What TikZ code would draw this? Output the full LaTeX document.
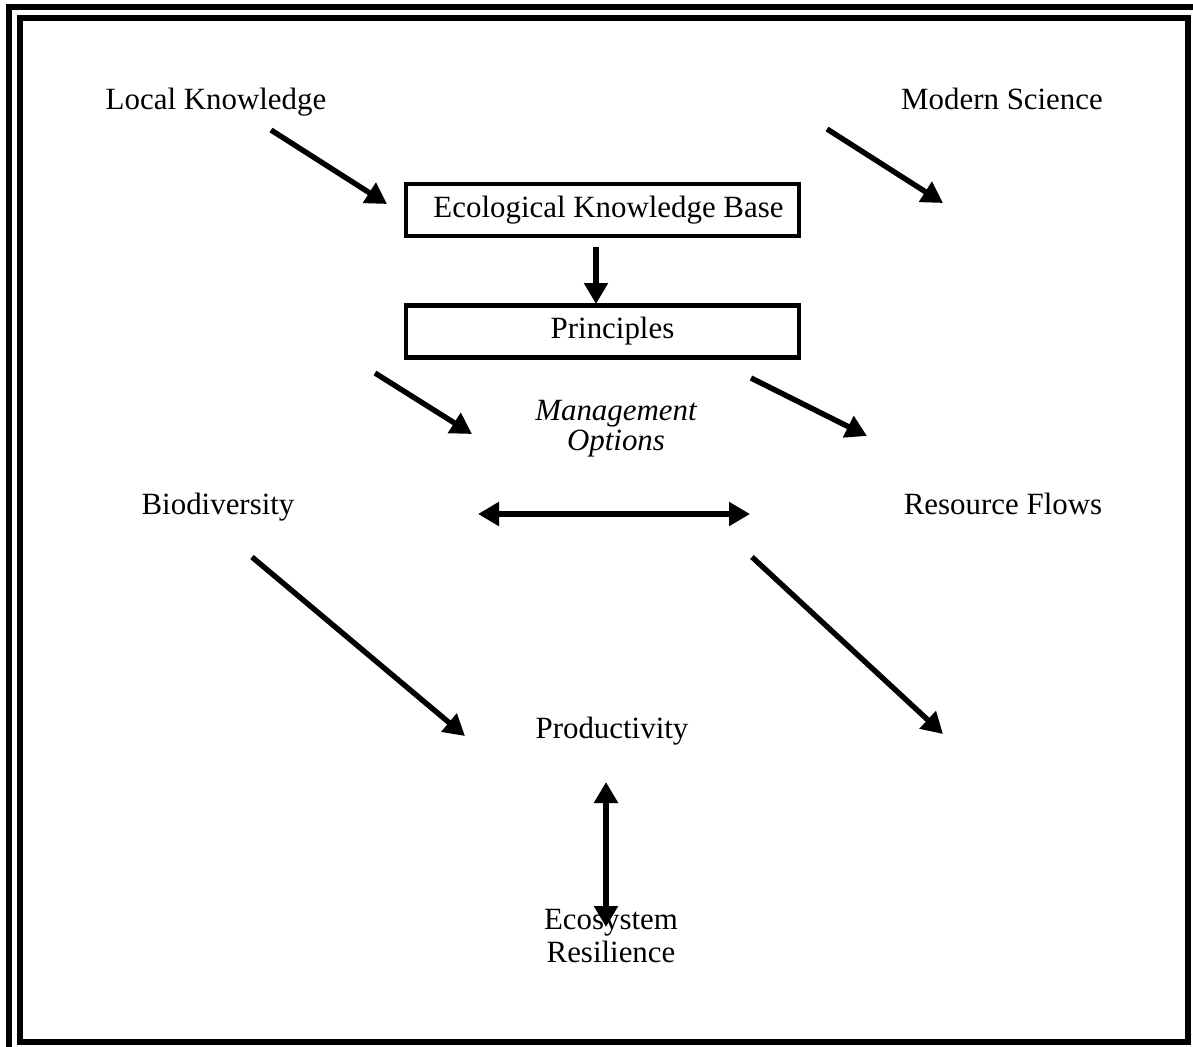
\documentclass[tikz,border=0pt]{standalone}
\usepackage{fontspec}
\setmainfont{Liberation Serif}
\usetikzlibrary{arrows.meta}
\tikzset{
  frame/.style={line width=3pt},
  boxnode/.style={draw, line width=2.1pt, minimum width=196.5pt, minimum height=26pt, inner sep=0pt, font=\fontsize{15.45pt}{17pt}\selectfont},
  lbl/.style={inner sep=0pt, align=center, font=\fontsize{15.45pt}{16.5pt}\selectfont},
  arr/.style={line width=2.7pt, -{Triangle[length=10.5pt,width=11.5pt]}},
  darr/.style={line width=2.7pt, {Triangle[length=10.5pt,width=11.5pt]}-{Triangle[length=10.5pt,width=11.5pt]}}
}
\begin{document}
\begin{tikzpicture}[x=0.5pt,y=-0.5pt]
\useasboundingbox (0,0) rectangle (1193,1046);
% frame
\draw[frame] (19.5,17.5) rectangle (1188,1041.5);
\draw[frame] (9,1060) -- (9,7) -- (1210,7);
% text nodes
\node[lbl] (lk) at (216,102) {Local Knowledge};
\node[lbl] (ms) at (1002,99) {Modern Science};
\node[boxnode] (ekb) at (602.5,210) {\hspace*{6pt}Ecological Knowledge Base};
\node[boxnode] (pr) at (602.5,331.5) {\hspace*{10pt}Principles};
\node[lbl, font=\fontsize{15.45pt}{15pt}\selectfont\itshape] (mo) at (616,429) {Management\\Options};
\node[lbl] (bd) at (218,507) {Biodiversity};
\node[lbl] (rf) at (1003,504) {Resource Flows};
\node[lbl] (pd) at (612,731) {Productivity};
\node[lbl] (er) at (611,936) {Ecosystem\\Resilience};
% arrow end points
\coordinate (a1s) at (271,130);
\coordinate (a1e) at (387,204);
\coordinate (a2s) at (827,129);
\coordinate (a2e) at (943,203);
\coordinate (a3s) at (596,247);
\coordinate (a3e) at (596,304);
\coordinate (a4s) at (375,373);
\coordinate (a4e) at (472,434);
\coordinate (a5s) at (751,378);
\coordinate (a5e) at (867,436);
\coordinate (a6s) at (478,514);
\coordinate (a6e) at (750,514);
\coordinate (a7s) at (252,557);
\coordinate (a7e) at (465,736);
\coordinate (a8s) at (752,557);
\coordinate (a8e) at (943,734);
\coordinate (a9s) at (606,782);
\coordinate (a9e) at (606,927);
% arrows
\draw[arr] (a1s) -- (a1e);
\draw[arr] (a2s) -- (a2e);
\draw[arr] (a3s) -- (a3e);
\draw[arr] (a4s) -- (a4e);
\draw[arr] (a5s) -- (a5e);
\draw[darr] (a6s) -- (a6e);
\draw[arr] (a7s) -- (a7e);
\draw[arr] (a8s) -- (a8e);
\draw[darr] (a9s) -- (a9e);
\end{tikzpicture}
\end{document}
